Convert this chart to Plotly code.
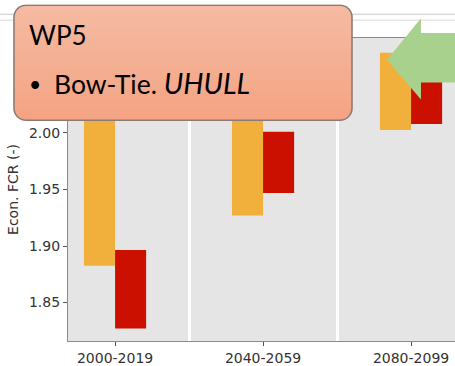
import base64
import plotly.graph_objects as go

# ---- data ----
categories = ["2000-2019", "2040-2059", "2080-2099"]
orange_low = [1.8825, 1.927, 2.0026]
orange_high = [2.04, 2.06, 2.071]
red_low = [1.827, 1.947, 2.008]
red_high = [1.8965, 2.001, 2.05]
y_ticks = [1.85, 1.90, 1.95, 2.00]

# ---- layout constants (pixels) ----
W, H = 455, 366
L, T, B = 68, 38, 22
PW, PH = W - L, H - T - B


def px(x):
    return (x - L) / PW


def py(y):
    return (H - B - y) / PH


xpos = list(range(len(categories)))

fig = go.Figure()
fig.add_trace(go.Bar(
    x=xpos, y=[h - l for h, l in zip(orange_high, orange_low)], base=orange_low,
    marker=dict(color="#F1B03C", line=dict(width=0)), name="a", showlegend=False))
fig.add_trace(go.Bar(
    x=xpos, y=[h - l for h, l in zip(red_high, red_low)], base=red_low,
    marker=dict(color="#CC1000", line=dict(width=0)), name="b", showlegend=False))

# rounded box with gradient as svg image
svg = ("<svg xmlns='http://www.w3.org/2000/svg' width='340' height='118' viewBox='0 0 340 118'>"
       "<defs><linearGradient id='g' x1='0' y1='0' x2='0' y2='1'>"
       "<stop offset='0' stop-color='#F5BBA2'/><stop offset='1' stop-color='#F4A383'/>"
       "</linearGradient></defs>"
       "<rect x='1' y='1' width='338' height='116' rx='12' ry='12' fill='url(#g)' "
       "stroke='#8C7B72' stroke-width='1.6'/></svg>")
src = "data:image/svg+xml;base64," + base64.b64encode(svg.encode()).decode()

fig.add_layout_image(dict(source=src, xref="paper", yref="paper",
                          x=px(13), y=py(4), sizex=340 / PW, sizey=118 / PH,
                          xanchor="left", yanchor="top", sizing="stretch", layer="above"))

# green arrow
pts = [(387, 60), (421, 18), (421, 33), (460, 33), (460, 83), (421, 83), (421, 100)]
path = "M " + " L ".join(f"{px(a):.4f},{py(b):.4f}" for a, b in pts) + " Z"
shapes = [
    dict(type="line", xref="paper", yref="paper", x0=px(0), x1=px(W), y0=py(14), y1=py(14),
         line=dict(color="#C8C8C8", width=1), layer="below"),
    dict(type="line", xref="paper", yref="paper", x0=px(0), x1=px(W), y0=py(20), y1=py(20),
         line=dict(color="#D8D8D8", width=1), layer="below"),
    dict(type="path", xref="paper", yref="paper", path=path,
         fillcolor="#A9D18E", line=dict(width=0), layer="above"),
]

annotations = [
    dict(text="WP5", xref="paper", yref="paper", x=px(27), y=py(35), xanchor="left",
         yanchor="middle", showarrow=False, font=dict(family="Lato", size=26, color="#000")),
    dict(text="•", xref="paper", yref="paper", x=px(27), y=py(84), xanchor="left",
         yanchor="middle", showarrow=False, font=dict(family="Lato", size=21, color="#000")),
    dict(text="Bow-Tie. <i><span style='font-size:28.5px'>UHULL</span></i>",
         xref="paper", yref="paper", x=px(52), y=py(83),
         xanchor="left", yanchor="middle", showarrow=False,
         font=dict(family="Lato", size=26.5, color="#000")),
]

fig.update_layout(
    width=W, height=H,
    margin=dict(l=L, r=0, t=T, b=B, pad=0),
    paper_bgcolor="white", plot_bgcolor="#E5E5E5",
    barmode="group", bargap=0.58, bargroupgap=0,
    shapes=shapes, annotations=annotations,
    font=dict(family="DejaVu Sans", size=14, color="#333333"),
)
fig.update_xaxes(
    range=[-0.318, 2.297], tickvals=xpos, ticktext=categories,
    showgrid=False, zeroline=False,
    minor=dict(tickvals=[0.5, 1.5], showgrid=True, gridcolor="white", gridwidth=2.5, ticklen=0),
    showline=True, linecolor="#8A8A8A", linewidth=1.3, mirror=True,
    ticks="outside", ticklen=4, tickcolor="#555555",
    tickfont=dict(family="DejaVu Sans", size=14, color="#333333"),
)
fig.update_yaxes(
    range=[1.816, 2.084], tickvals=y_ticks, ticktext=[f"{v:.2f}" for v in y_ticks],
    showgrid=False, zeroline=False,
    showline=True, linecolor="#8A8A8A", linewidth=1.3,
    ticks="outside", ticklen=4, tickcolor="#555555",
    tickfont=dict(family="DejaVu Sans", size=14, color="#333333"),
    title=dict(text="Econ. FCR (-)", standoff=6,
               font=dict(family="DejaVu Sans", size=14, color="#333333")),
)

fig.write_html("out.html")
